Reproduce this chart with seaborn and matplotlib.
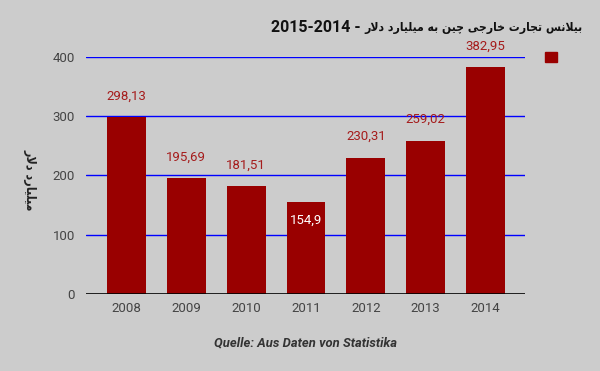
import matplotlib
matplotlib.use("Agg")
import matplotlib.pyplot as plt
import seaborn as sns
import pandas as pd
from matplotlib.patches import Patch

# ---- data ----
years = ["2008", "2009", "2010", "2011", "2012", "2013", "2014"]
values = [298.13, 195.69, 181.51, 154.9, 230.31, 259.02, 382.95]
title_fa = "بیلانس تجارت خارجی چین به میلیارد دلار"
title_period = "2015-2014"
ylabel_fa = "میلیارد دلار"
source = "Quelle: Aus Daten von Statistika"
yticks = [0, 100, 200, 300, 400]

# ---- minimal Arabic/Persian shaping (presentation forms) ----
FORMS = {
    "ا": (0xFE8D, 0xFE8E, None, None),
    "ب": (0xFE8F, 0xFE90, 0xFE91, 0xFE92),
    "ت": (0xFE95, 0xFE96, 0xFE97, 0xFE98),
    "ج": (0xFE9D, 0xFE9E, 0xFE9F, 0xFEA0),
    "خ": (0xFEA5, 0xFEA6, 0xFEA7, 0xFEA8),
    "د": (0xFEA9, 0xFEAA, None, None),
    "ر": (0xFEAD, 0xFEAE, None, None),
    "س": (0xFEB1, 0xFEB2, 0xFEB3, 0xFEB4),
    "ل": (0xFEDD, 0xFEDE, 0xFEDF, 0xFEE0),
    "م": (0xFEE1, 0xFEE2, 0xFEE3, 0xFEE4),
    "ن": (0xFEE5, 0xFEE6, 0xFEE7, 0xFEE8),
    "ه": (0xFEE9, 0xFEEA, 0xFEEB, 0xFEEC),
    "ی": (0xFBFC, 0xFBFD, 0xFBFE, 0xFBFF),
    "چ": (0xFB7A, 0xFB7B, 0xFB7C, 0xFB7D),
}
LAMALEF = (0xFEFB, 0xFEFC)


def shape_word(w):
    out = []
    i = 0
    n = len(w)
    prev_joins = False
    while i < n:
        c = w[i]
        if c == "ل" and i + 1 < n and w[i + 1] == "ا":
            out.append(chr(LAMALEF[1] if prev_joins else LAMALEF[0]))
            prev_joins = False
            i += 2
            continue
        iso, fin, ini, med = FORMS[c]
        nxt = w[i + 1] if i + 1 < n else None
        can_next = ini is not None and nxt is not None
        if prev_joins and can_next:
            cp = med
        elif prev_joins:
            cp = fin
        elif can_next:
            cp = ini
        else:
            cp = iso
        out.append(chr(cp))
        prev_joins = can_next
        i += 1
    return "".join(out)


def visual(text):
    shaped = " ".join(shape_word(w) for w in text.split(" "))
    return shaped[::-1]


# ---- style ----
bg = "#cccccc"
bar_color = "#990000"
sns.set_style("white", {"axes.facecolor": bg, "figure.facecolor": bg})
plt.rcParams["font.family"] = ["Roboto", "DejaVu Sans"]

fig = plt.figure(figsize=(6, 3.71), dpi=100)
ax = fig.add_axes([86 / 600, 77 / 371, (525 - 86) / 600, (294 - 57) / 371])

df = pd.DataFrame({"year": years, "value": values})
sns.barplot(data=df, x="year", y="value", color=bar_color, width=0.65,
            saturation=1, linewidth=0, ax=ax, zorder=3)

ax.set_xlim(-0.677, 6.66)
ax.set_ylim(0, 400)
ax.set_yticks(yticks)
for v in yticks[1:]:
    ax.axhline(v, color="#0000ff", lw=1.0, zorder=1)
ax.axhline(0, color="black", lw=1.2, zorder=4)
for s in ax.spines.values():
    s.set_visible(False)
ax.tick_params(axis="both", length=0, labelsize=9.5, labelcolor="#444444")
ax.tick_params(axis="y", pad=8)
ax.tick_params(axis="x", pad=6)
ax.set_xlabel("")
ax.set_ylabel("")

# value labels
for i, v in enumerate(values):
    lab = f"{v:g}".replace(".", ",")
    if v < 170:
        ax.annotate(lab, (i, v), xytext=(0, -13), textcoords="offset points",
                    ha="center", va="center", color="white", fontsize=9.5,
                    zorder=5)
    else:
        ax.annotate(lab, (i, v), xytext=(0, 15), textcoords="offset points",
                    ha="center", va="center", color="#a51c1c", fontsize=9.5,
                    zorder=5, annotation_clip=False)

# y label
fig.text(30 / 600, 1 - 180 / 371, visual(ylabel_fa), rotation=270,
         ha="center", va="center", fontsize=9, fontweight="bold",
         fontstretch="condensed", color="#222222", family=["DejaVu Sans"])

# title: Persian part fitted to the reference width, Latin part to its left
renderer = fig.canvas.get_renderer()
t_fa = fig.text(583 / 600, 1 - 27 / 371, visual(title_fa),
                ha="right", va="center", fontsize=9.6, fontweight="bold",
                fontstretch="condensed", color="#111111", family=["DejaVu Sans"])
w = t_fa.get_window_extent(renderer).width
t_fa.set_fontsize(9.6 * 219 / w)
x_left = t_fa.get_window_extent(renderer).x0
fig.text((x_left - 4) / 600, 1 - 28 / 371, title_period + " -",
         ha="right", va="center", fontsize=11.5, fontweight="bold",
         color="#111111", family=["Roboto"])

# source
fig.text(305 / 600, 1 - 343 / 371, source, ha="center", va="center",
         fontsize=9.4, fontweight="bold", style="italic", color="#333333")

# legend (square only)
ax.legend(handles=[Patch(facecolor=bar_color, edgecolor=bar_color)], labels=[""],
          loc="center", bbox_to_anchor=(551 / 600, 1 - 58 / 371),
          bbox_transform=fig.transFigure, frameon=False, handlelength=0.8,
          handleheight=0.8, handletextpad=0, borderpad=0)

fig.savefig("out.png", dpi=100, facecolor=bg)
